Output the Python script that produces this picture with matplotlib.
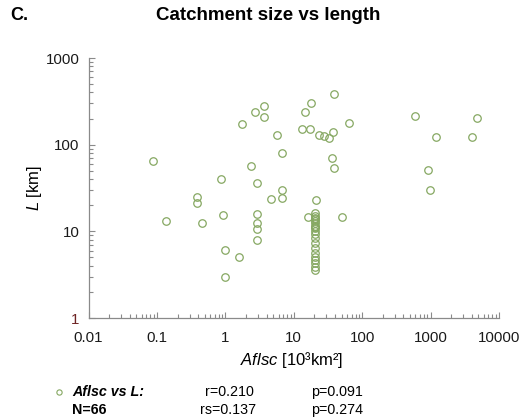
import matplotlib
matplotlib.use("Agg")
import matplotlib.pyplot as plt
from matplotlib.lines import Line2D
from matplotlib.ticker import LogLocator, NullFormatter, FixedLocator, FixedFormatter

plt.rcParams['font.family'] = ['Liberation Sans', 'DejaVu Sans']
plt.rcParams['mathtext.fontset'] = 'custom'
plt.rcParams['mathtext.rm'] = 'Liberation Sans'
plt.rcParams['mathtext.it'] = 'Liberation Sans:italic'
plt.rcParams['mathtext.bf'] = 'Liberation Sans:bold'

# Data: Aflsc [10^3 km^2] vs L [km]
aflsc = [0.088, 0.137, 0.38, 0.38, 0.46, 0.87, 0.92, 0.98, 0.98, 1.6,
         1.75, 2.4, 2.75, 2.88, 2.88, 2.88, 2.88, 2.88, 3.7, 3.7,
         4.6, 5.75, 6.75, 6.75, 6.75, 13.2, 14.8, 17.6, 17.3, 16.2,
         23.7, 27.7, 33.0, 38.0, 38.8, 36.7, 38.4, 50.0, 65.0, 590.0,
         1180.0, 910.0, 990.0, 4040.0, 4750.0, 20.8,
         20.5, 20.5, 20.5, 20.5, 20.5, 20.5, 20.5, 20.5, 20.5, 20.5,
         20.5, 20.5, 20.5, 20.5, 20.5, 20.5, 20.5, 20.5, 20.5, 20.5]
length = [65, 13.3, 24.7, 21.3, 12.4, 40, 15.6, 6.1, 3.0, 5.0,
          171, 57, 238, 36, 15.9, 12.5, 10.6, 8.0, 282, 208,
          23.5, 131, 80, 30, 24.5, 152, 238, 302, 152, 14.5,
          131, 126, 120, 141, 388, 71, 54.5, 14.6, 177, 216,
          121, 51, 30, 121, 201, 23.2,
          16.3, 15.2, 14.3, 13.8, 13.3, 12.5, 11.6, 11.2, 10.9, 10.2,
          9.4, 8.4, 7.3, 6.4, 5.6, 5.1, 4.7, 4.3, 3.9, 3.6]

x_ticks = [0.01, 0.1, 1, 10, 100, 1000, 10000]
x_tick_labels = ["0.01", "0.1", "1", "10", "100", "1000", "10000"]
y_ticks = [1, 10, 100, 1000]
y_tick_labels = ["1", "10", "100", "1000"]

title = "Catchment size vs length"
panel = "C."
stats_r = "r=0.210"
stats_p1 = "p=0.091"
stats_rs = "rs=0.137"
stats_p2 = "p=0.274"
n_text = "N=66"

W, H = 529, 419
fig = plt.figure(figsize=(W / 100, H / 100), dpi=100)
fig.patch.set_facecolor('white')

def fx(px):
    return px / W

def fy(py):
    return 1 - py / H

ax = fig.add_axes([fx(88.5), fy(318), (499 - 88.5) / W, (318 - 58) / H])
mcol = '#86a862'
ax.plot(aflsc, length, linestyle='none', marker='o', markersize=5.4,
        markerfacecolor='none', markeredgecolor=mcol, markeredgewidth=0.9)

ax.set_xscale('log')
ax.set_yscale('log')
ax.set_xlim(0.01, 10000)
ax.set_ylim(1, 1000)

for s in ['top', 'right']:
    ax.spines[s].set_visible(False)
for s in ['left', 'bottom']:
    ax.spines[s].set_color('#8a8a8a')
    ax.spines[s].set_linewidth(0.9)

ax.xaxis.set_major_locator(FixedLocator(x_ticks))
ax.xaxis.set_major_formatter(FixedFormatter(x_tick_labels))
ax.yaxis.set_major_locator(FixedLocator(y_ticks))
ax.yaxis.set_major_formatter(FixedFormatter(y_tick_labels))
ax.xaxis.set_minor_locator(LogLocator(base=10, subs=range(2, 10), numticks=20))
ax.yaxis.set_minor_locator(LogLocator(base=10, subs=range(2, 10), numticks=20))
ax.xaxis.set_minor_formatter(NullFormatter())
ax.yaxis.set_minor_formatter(NullFormatter())

ax.tick_params(axis='both', which='both', direction='in', color='#8a8a8a', width=0.8)
ax.tick_params(axis='both', which='major', length=4)
ax.tick_params(axis='both', which='minor', length=3)
ax.tick_params(axis='x', which='major', labelsize=10.8, pad=9, labelcolor='#1a1a1a')
ax.tick_params(axis='y', which='major', labelsize=10.8, pad=6.5, labelcolor='#1a1a1a')
for lab in ax.get_yticklabels():
    if lab.get_text() == "1":
        lab.set_color('#6e2424')

fig.text(fx(292), fy(360), r'$\mathit{Aflsc}$ [10³km²]', ha='center', va='center', fontsize=12)
fig.text(fx(34), fy(188), r'$\mathit{L}$ [km]', ha='center', va='center', fontsize=12, rotation=90)

fig.text(fx(268.5), fy(15), title, ha='center', va='center', fontsize=13.5, fontweight='bold')
fig.text(fx(10), fy(15), panel, ha='left', va='center', fontsize=13, fontweight='bold')

fig.add_artist(Line2D([fx(58.5)], [fy(392)], transform=fig.transFigure, marker='o', markersize=3.8,
                      markerfacecolor='none', markeredgecolor=mcol, markeredgewidth=0.8, linestyle='none'))
fs = 10.3
fig.text(fx(72), fy(392), 'Aflsc vs L:', ha='left', va='center', fontsize=fs,
         fontweight='bold', fontstyle='italic')
fig.text(fx(72), fy(410), n_text, ha='left', va='center', fontsize=fs, fontweight='bold')
fig.text(fx(205), fy(392), stats_r, ha='left', va='center', fontsize=fs)
fig.text(fx(200), fy(410), stats_rs, ha='left', va='center', fontsize=fs)
fig.text(fx(311), fy(392), stats_p1, ha='left', va='center', fontsize=fs)
fig.text(fx(311), fy(410), stats_p2, ha='left', va='center', fontsize=fs)

fig.savefig('out.png', dpi=100)
